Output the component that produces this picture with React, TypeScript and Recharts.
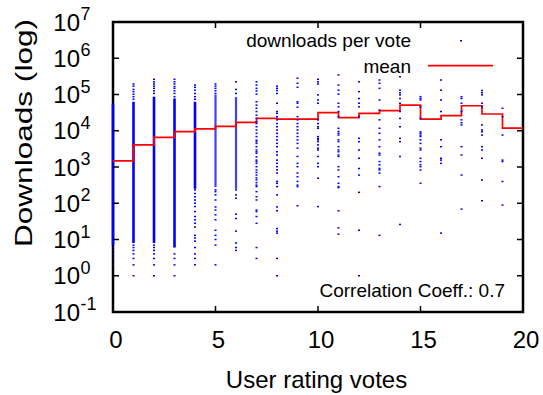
import { ComposedChart, Line, ReferenceArea, ReferenceLine, Scatter, XAxis, YAxis } from "recharts";

const voteTicks = [0, 5, 10, 15, 20];
const downloadTicks = [0.1, 1, 10, 100, 1e3, 1e4, 1e5, 1e6, 1e7];

// mean downloads per number of rating votes (0..19)
const meanDownloads = [
  1480, 4100, 6600, 9400, 11200, 13200, 17000, 22000, 21000, 21000, 31600, 23000, 30000, 36000,
  51000, 21000, 26000, 49000, 29000, 11800
];

// columns too crowded to show single apps: [votes, lowest, highest]
const solidRuns = [
  [0, 7, 56000],
  [1, 8, 63000],
  [2, 8, 87000],
  [3, 6, 78000],
  [4, 250, 63000]
];
const speckledRuns = [
  [5, 280, 100000],
  [6, 250, 85000]
];

// single apps outside the crowded runs
const downloadsAt0 = [1, 2, 3, 4, 5, 6];
const downloadsAt1 = [1, 2, 3, 4, 5, 6, 7, 74000, 87000, 102000, 120000, 138000, 170000, 195000];
const downloadsAt2 = [1, 2, 3, 4, 5, 6, 7, 107000, 126000, 148000, 170000, 195000, 224000, 263000];
const downloadsAt3 = [1, 2, 3, 4, 87000, 107000, 126000, 148000, 166000, 195000, 224000, 263000];
const downloadsAt4 = [
  2, 3, 4, 6, 9, 11, 13, 22, 28, 35, 43, 59, 81, 100, 123, 151, 186, 234, 74000, 87000, 107000,
  132000, 158000, 182000
];
const downloadsAt5 = [
  2, 7, 10, 13, 18, 35, 48, 65, 79, 123, 170, 209, 234, 107000, 126000, 148000, 170000, 195000
];
const downloadsAt6 = [5, 6, 8, 17, 38, 50, 138, 170, 234, 107000, 138000, 224000];
const downloadsAt7 = [
  3, 6, 28, 43, 59, 65, 123, 151, 209, 288, 316, 370, 440, 500, 600, 710, 830, 1020, 1260, 1410,
  1550, 1900, 2400, 2630, 2950, 3630, 4470, 5000, 5500, 6900, 8500, 10500, 12900, 15800, 17800,
  21900, 26900, 33900, 41700, 51000, 63000, 102000, 126000, 148000, 182000, 224000
];
const downloadsAt8 = [
  1, 3, 15, 17, 20, 62, 79, 170, 288, 355, 400, 680, 830, 1020, 1260, 1550, 2140, 2630, 3630,
  4470, 5600, 6900, 8500, 10500, 12900, 15800, 20000, 24500, 30200, 33900, 57500, 107000, 129000,
  148000, 170000
];
const downloadsAt9 = [
  85, 288, 316, 400, 540, 680, 1020, 1260, 1950, 3310, 4470, 5600, 6900, 8500, 10500, 12900,
  15800, 20000, 24500, 44700, 57500, 63000, 158000, 204000, 282000
];
const downloadsAt10 = [
  81, 490, 1020, 1260, 1950, 2950, 3310, 4070, 5010, 5620, 6170, 6900, 11700, 12900, 15800, 20000,
  57500, 70800, 97700, 195000, 224000, 263000
];
const downloadsAt11 = [
  14, 21, 62, 269, 288, 355, 540, 830, 1020, 1950, 2140, 2630, 2950, 3630, 5010, 5620, 7590, 8500,
  9550, 11700, 24500, 33900, 45700, 57500, 102000, 132000, 182000, 347000
];
const downloadsAt12 = [
  1, 18, 200, 600, 910, 1740, 2950, 5010, 6170, 24500, 45700, 57500, 77600, 120000, 224000
];
const downloadsAt13 = [
  13, 288, 680, 830, 910, 1150, 1410, 2140, 2400, 3630, 5620, 8510, 11700, 20000, 37200, 70800,
  148000, 204000, 251000
];
const downloadsAt14 = [
  26, 1950, 5010, 6170, 12900, 21900, 33900, 57500, 77600, 97700, 112000, 132000, 309000
];
const downloadsAt15 = [
  355, 830, 1020, 1150, 1410, 1740, 2950, 3310, 4470, 5620, 6920, 7590, 8510, 9330, 21900, 45700,
  70800, 77600, 87100
];
const downloadsAt16 = [15, 1260, 1550, 1740, 3630, 5620, 33900, 70800, 132000, 251000];
const downloadsAt17 = [69, 600, 2140, 3630, 14500, 16600, 20000, 33900, 57500, 77600, 87100];
const downloadsAt18 = [
  117, 437, 1740, 2950, 3630, 7590, 9330, 10500, 14500, 45700, 57500, 97700, 112000, 129000
];
const downloadsAt19 = [89, 398, 1410, 1550, 7590, 24500, 41700];

const downloadColumns = [
  downloadsAt0, downloadsAt1, downloadsAt2, downloadsAt3, downloadsAt4, downloadsAt5, downloadsAt6,
  downloadsAt7, downloadsAt8, downloadsAt9, downloadsAt10, downloadsAt11, downloadsAt12,
  downloadsAt13, downloadsAt14, downloadsAt15, downloadsAt16, downloadsAt17, downloadsAt18,
  downloadsAt19
];

const points = downloadColumns.flatMap((column, votes) =>
  column.map((downloads) => ({ votes, downloads }))
);

// stepAfter needs a closing point at the right edge
const meanSteps = meanDownloads
  .map((downloads, votes) => ({ votes, downloads }))
  .concat({ votes: meanDownloads.length, downloads: meanDownloads[meanDownloads.length - 1] });

const WIDTH = 543;
const HEIGHT = 395;
const PLOT_W = 410;
const PLOT_H = 290;
const FONT = "'Liberation Sans', Arial, Helvetica, sans-serif";
const BLUE = "#0000ff";
const RED = "#ff0000";

function VoteTick({ x, y, payload }: any) {
  return (
    <g>
      <line x1={x} y1={y} x2={x} y2={y - 6} stroke="#000" strokeWidth={1.5} />
      <line x1={x} y1={y - PLOT_H} x2={x} y2={y - PLOT_H + 6} stroke="#000" strokeWidth={1.5} />
      <text x={x + 3} y={y + 36} textAnchor="middle" fontSize={24} fontFamily={FONT} fill="#000">
        {payload.value}
      </text>
    </g>
  );
}

function DownloadTick({ x, y, payload }: any) {
  const exponent = Math.round(Math.log10(payload.value));
  return (
    <g>
      <line x1={x} y1={y} x2={x + 6} y2={y} stroke="#000" strokeWidth={1.5} />
      <line x1={x + PLOT_W} y1={y} x2={x + PLOT_W - 6} y2={y} stroke="#000" strokeWidth={1.5} />
      <text x={x - 33} y={y + 8.5} textAnchor="end" fontSize={24} fontFamily={FONT} fill="#000">
        10
      </text>
      <text x={x - 32.5} y={y - 2} fontSize={18} fontFamily={FONT} fill="#000">
        {exponent}
      </text>
    </g>
  );
}

function AppDot({ cx, cy }: any) {
  return <rect x={cx - 1} y={cy - 0.75} width={2} height={1.5} fill={BLUE} />;
}

export default function App() {
  return (
    <div style={{ position: "absolute", left: 0, top: 0, width: WIDTH, height: HEIGHT, background: "#fff" }}>
      <ComposedChart
        width={WIDTH}
        height={HEIGHT}
        margin={{ top: 22, right: 20, bottom: 0, left: 0 }}
      >
        <XAxis
          type="number"
          dataKey="votes"
          domain={[0, 20]}
          ticks={voteTicks}
          interval={0}
          height={83}
          axisLine={false}
          tickLine={false}
          tickSize={0}
          tickMargin={0}
          tick={<VoteTick />}
          allowDataOverflow
          label={{
            content: ({ viewBox }: any) => (
              <text
                x={viewBox.x + viewBox.width / 2 - 1.5}
                y={viewBox.y + 76}
                textAnchor="middle"
                fontSize={24}
                fontFamily={FONT}
                fill="#000"
              >
                User rating votes
              </text>
            )
          }}
        />
        <YAxis
          type="number"
          dataKey="downloads"
          scale="log"
          domain={[0.1, 1e7]}
          ticks={downloadTicks}
          interval={0}
          width={113}
          axisLine={false}
          tickLine={false}
          tickSize={0}
          tickMargin={0}
          tick={<DownloadTick />}
          allowDataOverflow
          label={{
            content: () => (
              <text
                transform="translate(32 133) rotate(-90)"
                textAnchor="middle"
                fontSize={24}
                fontFamily={FONT}
                fill="#000"
                textLength={228}
                lengthAdjust="spacingAndGlyphs"
              >
                Downloads (log)
              </text>
            )
          }}
        />
        {solidRuns.map(([votes, low, high]) => (
          <ReferenceLine
            key={`solid-${votes}`}
            segment={[
              { x: votes, y: low },
              { x: votes, y: high }
            ]}
            stroke={BLUE}
            strokeWidth={2.6}
          />
        ))}
        {speckledRuns.map(([votes, low, high]) => (
          <ReferenceLine
            key={`speckled-${votes}`}
            segment={[
              { x: votes, y: low },
              { x: votes, y: high }
            ]}
            stroke={BLUE}
            strokeWidth={2.2}
            strokeOpacity={0.75}
          />
        ))}
        <Scatter data={points} dataKey="downloads" shape={<AppDot />} isAnimationActive={false} />
        <Line
          data={meanSteps}
          dataKey="downloads"
          type="stepAfter"
          stroke={RED}
          strokeWidth={1.7}
          dot={false}
          activeDot={false}
          isAnimationActive={false}
        />
        <ReferenceArea
          x1={0}
          x2={20}
          y1={0.1}
          y2={1e7}
          fill="none"
          fillOpacity={0}
          stroke="#000"
          strokeWidth={2.5}
        />
      </ComposedChart>
      <svg
        width={WIDTH}
        height={HEIGHT}
        style={{ position: "absolute", left: 0, top: 0, pointerEvents: "none" }}
      >
        <g fontFamily={FONT} fontSize={19} fill="#000">
          <text x={411} y={46.5} textAnchor="end">downloads per vote</text>
          <rect x={460} y={40} width={2} height={1.5} fill={BLUE} />
          <text x={411} y={72.5} textAnchor="end">mean</text>
          <line x1={428} y1={65.7} x2={493} y2={65.7} stroke={RED} strokeWidth={1.7} />
          <text x={505} y={296.5} textAnchor="end">Correlation Coeff.: 0.7</text>
        </g>
      </svg>
    </div>
  );
}
